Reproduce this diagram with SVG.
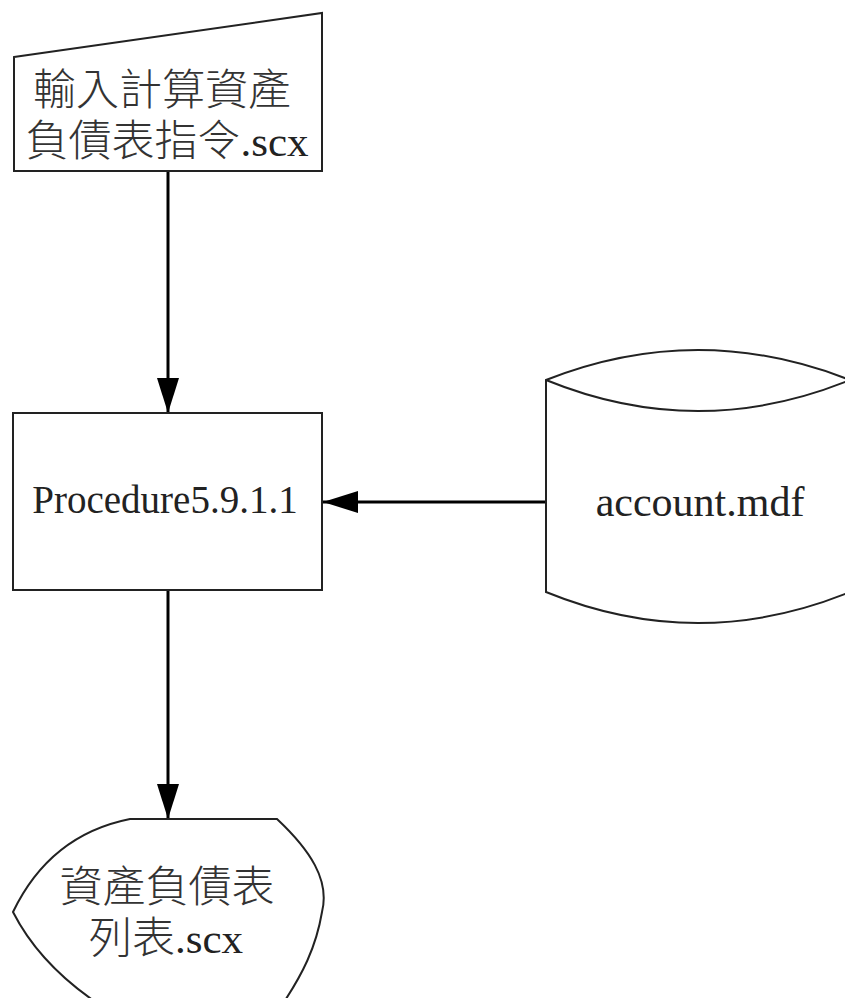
<svg xmlns="http://www.w3.org/2000/svg" width="845" height="998" viewBox="0 0 845 998">
<style>
.shape{fill:#fff;stroke:#222;stroke-width:2}
.conn{fill:none;stroke:#000;stroke-width:3}
.t{font-family:"Liberation Serif","Noto Sans CJK TC",serif;fill:#222;text-anchor:middle}
.cjk{font-family:"Liberation Serif","Noto Sans CJK TC","Noto Sans CJK SC",serif;font-weight:300;fill:#333;text-anchor:middle}
</style>
<defs>
<marker id="ah" markerUnits="userSpaceOnUse" markerWidth="36" markerHeight="24" refX="35" refY="11" orient="auto">
<path d="M0,0 L35,11 L0,22 Z" fill="#000"/>
</marker>
</defs>
<rect width="845" height="998" fill="#fff"/>
<g id="connectors">
<line class="conn" x1="168" y1="171" x2="168" y2="413" marker-end="url(#ah)"/>
<line class="conn" x1="546" y1="502" x2="323" y2="502" marker-end="url(#ah)"/>
<line class="conn" x1="168" y1="590" x2="168" y2="819" marker-end="url(#ah)"/>
</g>
<g id="input">
<path class="shape" d="M14,57 L322,13 L322,171 L14,171 Z"/>
<text class="cjk" font-size="43" x="162" y="105">輸入計算資產</text>
<text class="cjk" font-size="43" x="167" y="156">負債表指令<tspan class="t" font-family="Liberation Serif" fill="#222">.scx</tspan></text>
</g>
<g id="process">
<rect class="shape" x="13" y="413" width="309" height="177"/>
<text class="t" font-size="39" x="165" y="513">Procedure5.9.1.1</text>
</g>
<g id="database">
<path class="shape" d="M546,380 Q698,320 850,380 L850,592 Q698,654 546,592 Z"/>
<path class="shape" fill="none" d="M546,380 Q698,442 850,380"/>
<text class="t" font-size="42" x="700" y="516">account.mdf</text>
</g>
<g id="output">
<path class="shape" d="M130,819 L277,819 C310,850 330,880 322,912 C316,948 302,975 282,1005 L100,1005 Q40,965 13,912 Q50,835 130,819 Z"/>
<text class="cjk" font-size="43" x="167" y="902">資產負債表</text>
<text class="cjk" font-size="43" x="166" y="953">列表<tspan font-family="Liberation Serif" fill="#222">.scx</tspan></text>
</g>
</svg>
